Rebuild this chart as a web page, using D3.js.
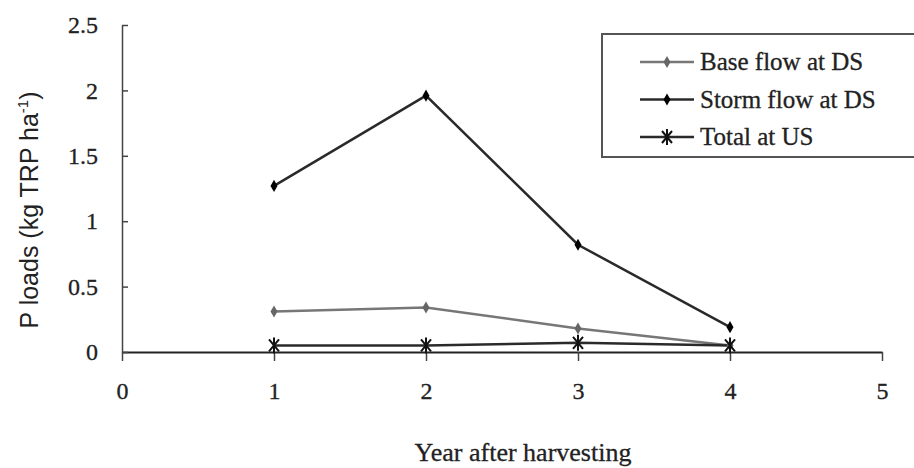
<!DOCTYPE html>
<html>
<head>
<meta charset="utf-8">
<script src="https://cdn.jsdelivr.net/npm/d3@7"></script>
<style>
  body { margin: 0; background: #fff; }
  svg { display: block; }
</style>
</head>
<body>
<script>
// Data
const years = [1, 2, 3, 4];
const baseFlowDS = [0.31, 0.34, 0.18, 0.05];
const stormFlowDS = [1.27, 1.96, 0.82, 0.19];
const totalUS = [0.05, 0.05, 0.07, 0.05];
const xTicks = [0, 1, 2, 3, 4, 5];
const yTicks = [0, 0.5, 1, 1.5, 2, 2.5];

const w = 914, h = 468;
const serif = "'Liberation Serif', 'Times New Roman', serif";
const sans = "'Liberation Sans', Arial, sans-serif";

const svg = d3.select("body").append("svg")
    .attr("width", w)
    .attr("height", h);

// Scales
const x = d3.scaleLinear().domain([0, 5]).range([122, 882]);
const y = d3.scaleLinear().domain([0, 2.5]).range([352, 25]);

/* axes */
const xAxis = svg.append("g")
    .attr("transform", `translate(0,${y(0)})`)
    .call(d3.axisBottom(x).tickValues(xTicks).tickSize(9).tickSizeOuter(0).tickPadding(21).tickFormat(d3.format("d")));
xAxis.select(".domain").attr("stroke", "#222").attr("stroke-width", 2);
xAxis.selectAll(".tick line").attr("stroke", "#444").attr("stroke-width", 1.5);
xAxis.selectAll("text").attr("font-family", serif).attr("font-size", 24).attr("fill", "#222")
    .attr("stroke", "#222").attr("stroke-width", 0.3);

const yAxis = svg.append("g")
    .attr("transform", `translate(${x(0)},0)`)
    .call(d3.axisLeft(y).tickValues(yTicks).tickSize(-6).tickSizeOuter(0).tickPadding(24).tickFormat(d => d));
yAxis.select(".domain").attr("stroke", "#444").attr("stroke-width", 1.5);
yAxis.selectAll(".tick line").attr("stroke", "#444").attr("stroke-width", 1.5);
yAxis.selectAll("text").attr("font-family", serif).attr("font-size", 24).attr("fill", "#222")
    .attr("stroke", "#222").attr("stroke-width", 0.3);

// axis titles
svg.append("text")
    .attr("x", 523).attr("y", 461)
    .attr("text-anchor", "middle")
    .attr("font-family", serif).attr("font-size", 26).attr("fill", "#222")
    .attr("stroke", "#222").attr("stroke-width", 0.3)
    .text("Year after harvesting");

const yt = svg.append("text")
    .attr("transform", "translate(38,210) rotate(-90)")
    .attr("text-anchor", "middle")
    .attr("font-family", sans).attr("font-size", 25).attr("fill", "#222");
yt.append("tspan").text("P loads (kg TRP ha");
yt.append("tspan").attr("font-size", 15).attr("dy", -10).text("-1");
yt.append("tspan").attr("dy", 10).text(")");

/* series */
const series = [
  {name: "Base flow at DS", values: baseFlowDS, color: "#777", marker: "diamond", fill: "#666"},
  {name: "Storm flow at DS", values: stormFlowDS, color: "#2a2a2a", marker: "diamond", fill: "#000"},
  {name: "Total at US", values: totalUS, color: "#2a2a2a", marker: "star", fill: "#000"}
];

const line = d3.line().x((d, i) => x(years[i])).y(d => y(d));

function drawMarker(g, type, cx, cy, fill) {
  if (type === "diamond") {
    g.append("path")
        .attr("d", d3.symbol(d3.symbolDiamond, 42)())
        .attr("transform", `translate(${cx},${cy})`)
        .attr("fill", fill);
  } else {
    g.append("path")
        .attr("d", "M-5,-6L5,6M-5,6L5,-6M0,-8L0,8")
        .attr("transform", `translate(${cx},${cy})`)
        .attr("stroke", "#111").attr("stroke-width", 2).attr("fill", "none");
  }
}

series.forEach(s => {
  svg.append("path")
      .datum(s.values)
      .attr("d", line)
      .attr("fill", "none")
      .attr("stroke", s.color)
      .attr("stroke-width", 2.5);
});
series.forEach(s => {
  const g = svg.append("g");
  s.values.forEach((v, i) => drawMarker(g, s.marker, x(years[i]), y(v), s.fill));
});

/* legend */
const legend = svg.append("g");
legend.append("rect")
    .attr("x", 602).attr("y", 34)
    .attr("width", 330).attr("height", 123)
    .attr("fill", "#fff").attr("stroke", "#555").attr("stroke-width", 2);

series.forEach((s, i) => {
  const ly = 62 + i * 37.5;
  legend.append("line")
      .attr("x1", 640).attr("x2", 694)
      .attr("y1", ly).attr("y2", ly)
      .attr("stroke", s.color).attr("stroke-width", 2.5);
  drawMarker(legend, s.marker, 667, ly, s.fill);
  legend.append("text")
      .attr("x", 700).attr("y", ly + 8)
      .attr("font-family", serif).attr("font-size", 25).attr("fill", "#222")
      .attr("stroke", "#222").attr("stroke-width", 0.3)
      .text(s.name);
});
</script>
</body>
</html>
